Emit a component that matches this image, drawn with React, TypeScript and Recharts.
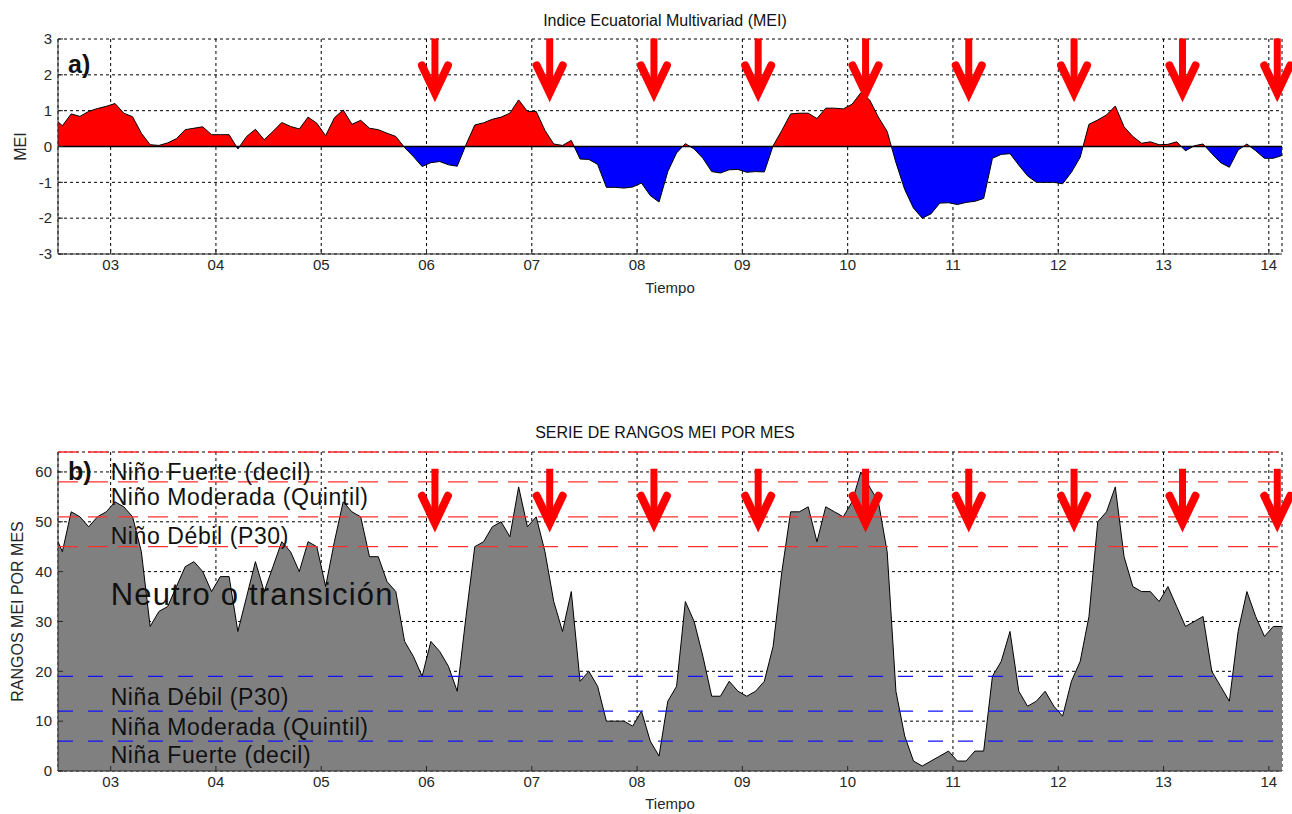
import React from 'react';
import {
  ComposedChart,
  Area,
  Scatter,
  XAxis,
  YAxis,
  CartesianGrid,
  ReferenceLine,
} from 'recharts';

// Serie mensual desde junio de 2002 hasta febrero de 2014
const firstYear = 2002;
const firstMonth = 6;

const meiValues = [
  0.8, 0.58, 0.91, 0.84, 0.98, 1.06, 1.12,
  1.2, 0.93, 0.83, 0.37, 0.05, 0.03, 0.1, 0.22, 0.47, 0.51, 0.55, 0.33,
  0.33, 0.33, -0.07, 0.28, 0.48, 0.19, 0.42, 0.67, 0.56, 0.49, 0.82, 0.65,
  0.3, 0.8, 1.02, 0.62, 0.73, 0.51, 0.47, 0.37, 0.28, -0.03, -0.28, -0.56,
  -0.45, -0.42, -0.51, -0.55, 0.05, 0.6, 0.66, 0.76, 0.82, 0.93, 1.3, 0.98,
  0.98, 0.45, 0.07, 0.03, 0.17, -0.35, -0.36, -0.5, -1.14, -1.14, -1.16, -1.13,
  -1.02, -1.37, -1.55, -0.7, -0.18, 0.08, -0.07, -0.33, -0.7, -0.74, -0.65, -0.64,
  -0.72, -0.7, -0.71, 0.02, 0.45, 0.91, 0.93, 0.93, 0.78, 1.07, 1.07, 1.05,
  1.18, 1.5, 1.3, 0.82, 0.42, -0.45, -1.2, -1.72, -2.0, -1.88, -1.58, -1.57,
  -1.62, -1.56, -1.53, -1.45, -0.33, -0.22, -0.2, -0.52, -0.82, -1.0, -1.0, -1.0,
  -1.04, -0.72, -0.3, 0.62, 0.74, 0.88, 1.13, 0.55, 0.28, 0.09, 0.13, 0.05,
  0.06, 0.13, -0.12, 0.02, 0.07, -0.2, -0.45, -0.58, -0.1, 0.07, -0.12, -0.33,
  -0.33, -0.25,
];

const rankValues = [
  48, 44, 52, 51, 49, 51, 52,
  54, 53, 51, 44, 29, 32, 33, 37, 41, 42, 40, 36,
  39, 39, 28, 35, 42, 36, 41, 46, 44, 40, 46, 45,
  37, 46, 54, 52, 51, 43, 43, 38, 36, 26, 23, 19,
  26, 24, 21, 16, 31, 45, 46, 49, 50, 47, 57, 49,
  51, 44, 34, 28, 36, 18, 20, 17, 10, 10, 10, 9,
  12, 6, 3, 14, 17, 34, 30, 23, 15, 15, 18, 16,
  15, 16, 18, 25, 40, 52, 52, 53, 46, 53, 52, 51,
  54, 60, 57, 54, 44, 16, 7, 2, 1, 2, 3, 4,
  2, 2, 4, 4, 19, 22, 28, 16, 13, 14, 16, 13,
  11, 18, 22, 31, 50, 52, 57, 43, 37, 36, 36, 34,
  37, 33, 29, 30, 31, 20, 17, 14, 28, 36, 31, 27,
  29, 29,
];

const yearTicks = [2003, 2004, 2005, 2006, 2007, 2008, 2009, 2010, 2011, 2012, 2013, 2014];
const meiTicks = [-3, -2, -1, 0, 1, 2, 3];
const rankTicks = [0, 10, 20, 30, 40, 50, 60];
const rankMax = 64;

// umbrales de rango: El Niño (P30, quintil, decil) y La Niña
const ninoLimits = [45, 51, 58];
const ninaLimits = [19, 12, 6];

// meses señalados con flecha
const arrowTimes = [2006.08, 2007.17, 2008.16, 2009.15, 2010.17, 2011.15, 2012.15, 2013.18, 2014.08];
const arrowTipMei = 1.23;
const arrowTipRank = 47.8;

const zoneNames = [
  'Niño Fuerte (decil)',
  'Niño Moderada (Quintil)',
  'Niño Débil (P30)',
  'Neutro o transición',
  'Niña Débil (P30)',
  'Niña Moderada (Quintil)',
  'Niña Fuerte (decil)',
];
const zoneNameRanks = [58.4, 53.4, 45.6, 33.3, 13.3, 7.2, 1.6];

const X_DOMAIN: [number, number] = [2002.5, 2014.125];
const FONT = '"Liberation Sans", Arial, Helvetica, sans-serif';
const AXIS = '#262626';

const series = meiValues.map((v, i) => ({
  t: firstYear + (firstMonth - 1 + i + 0.5) / 12,
  mei: v,
  rank: rankValues[i],
}));

const arrowsTop = arrowTimes.map((ta) => ({ ta, v: arrowTipMei }));
const arrowsBottom = arrowTimes.map((ta) => ({ ta, v: arrowTipRank }));
const zoneText = zoneNames.map((name, i) => ({ ta: 2003, v: zoneNameRanks[i], name }));

const meiMax = Math.max(...meiValues);
const meiMin = Math.min(...meiValues);
const zeroOffset = meiMax / (meiMax - meiMin);

const yearLabel = (y: number) => String(Math.round(y) % 100).padStart(2, '0');

const Arrow = (props: any) => {
  const { cx, cy } = props;
  if (cx == null || cy == null) return null;
  return (
    <g>
      <line x1={cx} y1={cy - 64} x2={cx} y2={cy - 12} stroke="#ff0000" strokeWidth={7} />
      <polyline
        points={`${cx - 13},${cy - 37} ${cx},${cy - 9.5} ${cx + 13},${cy - 37}`}
        fill="none"
        stroke="#ff0000"
        strokeWidth={8}
        strokeLinecap="round"
        strokeLinejoin="miter"
        strokeMiterlimit={10}
      />
    </g>
  );
};

const ZoneLabel = (props: any) => {
  const { cx, cy, payload } = props;
  if (cx == null || cy == null) return null;
  const big = payload.name.startsWith('Neutro');
  return (
    <text
      x={cx}
      y={cy}
      fontSize={big ? 31 : 23}
      letterSpacing={big ? 1.2 : 0.6}
      fill="#111"
      fontFamily={FONT}
    >
      {payload.name}
    </text>
  );
};

const tickStyle = { fontSize: 15, fill: AXIS };

const App = () => {
  return (
    <div
      style={{
        position: 'absolute',
        left: 0,
        top: 0,
        width: 1292,
        height: 814,
        background: '#fff',
        fontFamily: FONT,
        color: '#111',
      }}
    >
      <div style={{ position: 'absolute', left: 53, top: 13, width: 1224, textAlign: 'center', fontSize: 16, lineHeight: 1 }}>
        Indice Ecuatorial Multivariad (MEI)
      </div>
      <div style={{ position: 'absolute', left: 53, top: 425, width: 1224, textAlign: 'center', fontSize: 16, lineHeight: 1 }}>
        SERIE DE RANGOS MEI POR MES
      </div>

      <div style={{ position: 'absolute', left: 0, top: 0 }}>
        <ComposedChart width={1292} height={310} data={series} margin={{ top: 39, right: 10, bottom: 11, left: 8 }}>
          <defs>
            <linearGradient id="meiFill" x1="0" y1="0" x2="0" y2="1">
              <stop offset={zeroOffset} stopColor="#ff0000" />
              <stop offset={zeroOffset} stopColor="#0000ff" />
            </linearGradient>
          </defs>
          <CartesianGrid stroke="#000" strokeDasharray="3 3" />
          <XAxis
            dataKey="t"
            type="number"
            domain={X_DOMAIN}
            allowDataOverflow
            ticks={yearTicks}
            tickFormatter={yearLabel}
            height={45}
            tickSize={-5}
            tickMargin={10}
            stroke={AXIS}
            tick={tickStyle}
            label={{ value: 'Tiempo', position: 'insideBottom', offset: 6, fontSize: 15, fill: AXIS }}
          />
          <XAxis xAxisId="top" orientation="top" dataKey="t" type="number" domain={X_DOMAIN} allowDataOverflow
            ticks={yearTicks} height={0} tick={false} tickSize={-5} stroke={AXIS} />
          <XAxis xAxisId="arr" dataKey="ta" type="number" domain={X_DOMAIN} hide />
          <YAxis
            domain={[-3, 3]}
            ticks={meiTicks}
            width={50}
            tickSize={-5}
            tickMargin={11}
            stroke={AXIS}
            tick={tickStyle}
            label={{ value: 'MEI', angle: -90, position: 'insideLeft', offset: 12, fontSize: 16, fill: AXIS, style: { textAnchor: 'middle' } }}
          />
          <YAxis yAxisId="right" orientation="right" domain={[-3, 3]} allowDataOverflow ticks={meiTicks}
            width={0} tick={false} tickSize={-5} stroke={AXIS} />
          <Area
            dataKey="mei"
            type="linear"
            stroke="#000"
            strokeWidth={1}
            fill="url(#meiFill)"
            fillOpacity={1}
            isAnimationActive={false}
          />
          <ReferenceLine y={0} stroke="#000" strokeWidth={1.5} />
          <Scatter data={arrowsTop} xAxisId="arr" dataKey="v" shape={Arrow} isAnimationActive={false} />
        </ComposedChart>
      </div>

      <div style={{ position: 'absolute', left: 0, top: 400 }}>
        <ComposedChart width={1292} height={414} data={series} margin={{ top: 52, right: 10, bottom: 3, left: 8 }}>
          <CartesianGrid stroke="#000" strokeDasharray="3 3" />
          <XAxis
            dataKey="t"
            type="number"
            domain={X_DOMAIN}
            allowDataOverflow
            ticks={yearTicks}
            tickFormatter={yearLabel}
            height={40}
            tickSize={-5}
            tickMargin={10}
            stroke={AXIS}
            tick={tickStyle}
            label={{ value: 'Tiempo', position: 'insideBottom', offset: 2, fontSize: 15, fill: AXIS }}
          />
          <XAxis xAxisId="top" orientation="top" dataKey="t" type="number" domain={X_DOMAIN} allowDataOverflow
            ticks={yearTicks} height={0} tick={false} tickSize={-5} stroke={AXIS} />
          <XAxis xAxisId="arr" dataKey="ta" type="number" domain={X_DOMAIN} hide />
          <YAxis
            domain={[0, rankMax]}
            ticks={rankTicks}
            width={50}
            tickSize={-5}
            tickMargin={11}
            stroke={AXIS}
            tick={tickStyle}
            label={{ value: 'RANGOS MEI POR MES', angle: -90, position: 'insideLeft', offset: 9, fontSize: 16, fill: AXIS, style: { textAnchor: 'middle' } }}
          />
          <YAxis yAxisId="right" orientation="right" domain={[0, rankMax]} allowDataOverflow ticks={rankTicks}
            width={0} tick={false} tickSize={-5} stroke={AXIS} />
          <Area
            dataKey="rank"
            type="linear"
            stroke="#000"
            strokeWidth={1}
            fill="#808080"
            fillOpacity={1}
            isAnimationActive={false}
          />
          <ReferenceLine y={rankMax} stroke="#ff3030" strokeWidth={1.3} strokeDasharray="20 10" />
          {ninoLimits.map((r) => (
            <ReferenceLine key={`n${r}`} y={r} stroke="#ff3030" strokeWidth={1.3} strokeDasharray="20 10" />
          ))}
          {ninaLimits.map((r) => (
            <ReferenceLine key={`a${r}`} y={r} stroke="#1010ff" strokeWidth={1.3} strokeDasharray="15 15" />
          ))}
          <Scatter data={zoneText} xAxisId="arr" dataKey="v" shape={ZoneLabel} isAnimationActive={false} />
          <Scatter data={arrowsBottom} xAxisId="arr" dataKey="v" shape={Arrow} isAnimationActive={false} />
        </ComposedChart>
      </div>

      <div style={{ position: 'absolute', left: 68, top: 52, fontSize: 25, fontWeight: 'bold', lineHeight: 1 }}>a)</div>
      <div style={{ position: 'absolute', left: 68, top: 459, fontSize: 25, fontWeight: 'bold', lineHeight: 1 }}>b)</div>
    </div>
  );
};

export default App;
